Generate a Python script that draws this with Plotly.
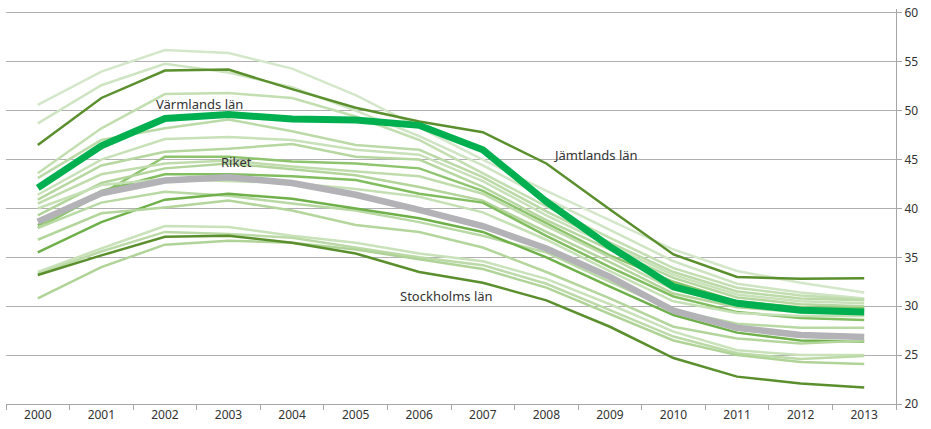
import plotly.graph_objects as go

years = [str(y) for y in range(2000, 2014)]

# Markerade serier
riket = [38.65, 41.55, 42.85, 43.2, 42.6, 41.4, 39.85, 38.2, 35.9, 33.0, 29.55, 27.8, 27.05, 26.85]
varmland = [42.1, 46.4, 49.2, 49.6, 49.15, 49.05, 48.5, 46.0, 40.7, 36.1, 32.0, 30.3, 29.6, 29.4]
jamtland = [46.5, 51.3, 54.1, 54.2, 52.2, 50.3, 48.9, 47.8, 44.6, 39.9, 35.3, 33.0, 32.8, 32.85]
stockholm = [33.2, 35.2, 37.1, 37.2, 36.5, 35.4, 33.5, 32.4, 30.6, 27.9, 24.7, 22.8, 22.1, 21.7]

# Övriga län
ovriga = [
    [50.6, 54.0, 56.2, 55.9, 54.3, 51.6, 48.3, 45.0, 41.8, 38.8, 35.8, 33.6, 32.4, 31.4],
    [48.7, 52.6, 54.8, 53.9, 52.4, 50.0, 47.4, 44.4, 41.0, 37.8, 34.6, 32.3, 31.4, 30.8],
    [43.6, 48.2, 51.7, 51.8, 51.3, 49.4, 47.0, 43.6, 40.2, 37.0, 33.9, 31.9, 31.1, 30.7],
    [43.1, 47.0, 48.2, 49.1, 47.9, 46.5, 46.0, 43.2, 39.7, 36.5, 33.5, 31.5, 30.8, 30.6],
    [41.4, 45.0, 47.1, 47.3, 47.0, 46.0, 45.5, 42.8, 39.3, 36.2, 33.2, 31.2, 30.5, 30.3],
    [40.9, 44.4, 45.8, 46.1, 46.6, 45.3, 45.0, 42.2, 38.8, 35.8, 32.9, 30.9, 30.2, 30.0],
    [38.0, 41.5, 45.3, 45.3, 44.8, 44.6, 44.1, 41.8, 38.5, 35.2, 32.5, 30.5, 29.9, 29.8],
    [40.5, 43.5, 44.6, 44.9, 44.3, 43.8, 43.3, 41.5, 38.2, 35.0, 31.7, 30.2, 29.6, 29.6],
    [39.3, 42.6, 44.1, 44.6, 44.0, 43.4, 42.2, 40.8, 37.6, 34.5, 31.3, 29.9, 29.4, 29.2],
    [38.3, 41.8, 43.5, 43.5, 43.3, 42.9, 41.5, 40.6, 37.2, 34.0, 31.0, 29.4, 28.8, 28.6],
    [40.0, 42.4, 43.0, 42.8, 42.6, 42.0, 41.2, 39.6, 36.8, 33.6, 30.5, 29.3, 29.0, 29.0],
    [38.0, 40.6, 41.7, 41.3, 40.5, 39.8, 38.6, 37.2, 35.5, 32.5, 29.6, 28.2, 27.8, 27.8],
    [35.5, 38.6, 40.9, 41.5, 41.0, 40.0, 39.0, 37.6, 35.0, 32.0, 29.1, 27.3, 26.5, 26.4],
    [36.8, 39.5, 40.1, 40.8, 39.8, 38.3, 37.6, 36.0, 33.5, 30.8, 27.9, 26.7, 26.2, 26.5],
    [33.5, 35.9, 38.2, 38.1, 37.2, 36.5, 35.4, 34.6, 32.8, 30.2, 27.4, 25.5, 25.0, 25.0],
    [33.3, 35.6, 37.6, 37.4, 37.0, 36.0, 35.0, 34.2, 32.3, 29.6, 26.9, 25.2, 24.6, 24.9],
    [30.8, 34.0, 36.3, 36.7, 36.5, 35.8, 34.8, 33.8, 31.9, 29.2, 26.5, 25.0, 24.3, 24.1],
]
ovriga_farg = [
    '#d4e7ca', '#cfe4c3', '#c3deb1', '#bcdaa8', '#c8e1b9', '#b6d7a0',
    '#8fc46f', '#c0dcad', '#b3d59c', '#82bd60', '#c6e0b5', '#b9d9a4',
    '#6fb04a', '#b4d69d', '#c9e2ba', '#bcdaa8', '#b0d398',
]

fig = go.Figure()

for i, (vals, col) in enumerate(zip(ovriga, ovriga_farg)):
    fig.add_trace(go.Scatter(x=years, y=vals, mode='lines', name=f'Län {i + 1}',
                             line=dict(color=col, width=2.5), showlegend=False))

for vals, name in [(jamtland, 'Jämtlands län'), (stockholm, 'Stockholms län')]:
    fig.add_trace(go.Scatter(x=years, y=vals, mode='lines', name=name,
                             line=dict(color='#5b8f2e', width=2.5), showlegend=False))

fig.add_trace(go.Scatter(x=years, y=riket, mode='lines', name='Riket',
                         line=dict(color='#b2b2b7', width=6.5), showlegend=False))
fig.add_trace(go.Scatter(x=years, y=varmland, mode='lines', name='Värmlands län',
                         line=dict(color='#00b050', width=7), showlegend=False))

labels = [
    ('Värmlands län', 2.55, 50.7),
    ('Riket', 3.13, 44.75),
    ('Jämtlands län', 8.77, 45.5),
    ('Stockholms län', 6.43, 31.05),
]
for text, x, y in labels:
    fig.add_annotation(x=x, y=y, text=text, showarrow=False,
                       font=dict(size=13, color='#333333'))

fig.update_layout(
    width=931,
    height=429,
    margin=dict(l=6, r=35, t=9, b=25, autoexpand=False),
    paper_bgcolor='white',
    plot_bgcolor='white',
    font=dict(family='Noto Sans, sans-serif', size=12, color='#333333'),
    xaxis=dict(
        type='category',
        range=[-0.5, 13.5],
        automargin=False,
        showgrid=False,
        showline=True,
        linecolor='#a6a6a6',
        linewidth=1,
        ticks='outside',
        tickson='boundaries',
        ticklen=5,
        tickcolor='#a6a6a6',
        zeroline=False,
    ),
    yaxis=dict(
        side='right',
        range=[20, 60.4],
        tickvals=[20, 25, 30, 35, 40, 45, 50, 55, 60],
        automargin=False,
        showgrid=True,
        gridcolor='#b0b0b0',
        gridwidth=1,
        showline=True,
        linecolor='#a6a6a6',
        linewidth=1,
        ticks='outside',
        ticklen=5,
        tickcolor='#a6a6a6',
        zeroline=False,
    ),
)

# sidans standardmarginal bort så att figuren ligger i hörnet
fig.write_html("out.html", config={'displayModeBar': False},
               post_script="document.body.style.margin='0px';")
